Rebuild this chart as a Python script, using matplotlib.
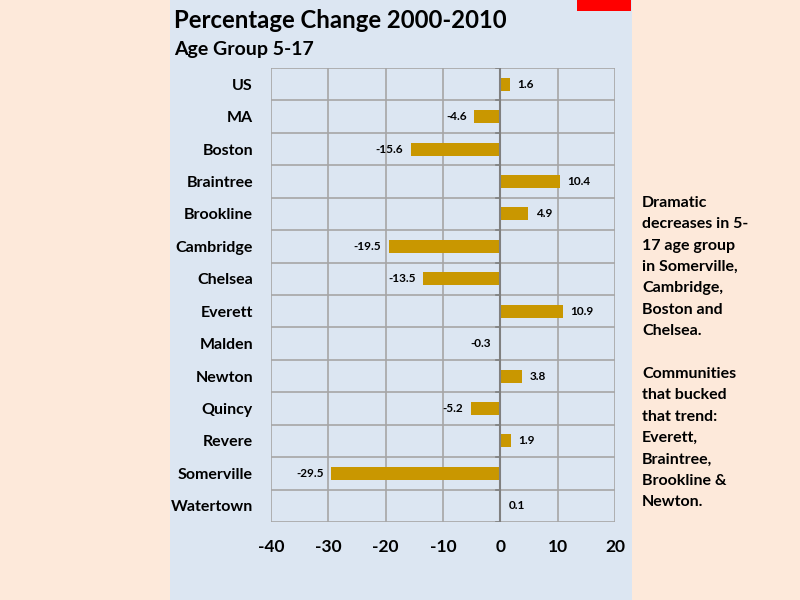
import matplotlib
matplotlib.use("Agg")
import matplotlib.pyplot as plt
from matplotlib.patches import Rectangle

places = ["US", "MA", "Boston", "Braintree", "Brookline", "Cambridge", "Chelsea",
          "Everett", "Malden", "Newton", "Quincy", "Revere", "Somerville", "Watertown"]
change = [1.6, -4.6, -15.6, 10.4, 4.9, -19.5, -13.5, 10.9, -0.3, 3.8, -5.2, 1.9, -29.5, 0.1]
x_ticks = [-40, -30, -20, -10, 0, 10, 20]

note = ("Dramatic\ndecreases in 5-\n17 age group\nin Somerville,\nCambridge,\nBoston and\nChelsea.\n\n"
        "Communities\nthat bucked\nthat trend:\nEverett,\nBraintree,\nBrookline &\nNewton.")

plt.rcParams['font.family'] = ['Lato', 'DejaVu Sans']

fig = plt.figure(figsize=(8, 6), dpi=100)
fig.patch.set_facecolor("#FDE9DA")

# background axes for the blue panel and the red block
bg = fig.add_axes([0, 0, 1, 1], zorder=-5)
bg.set_xlim(0, 800)
bg.set_ylim(600, 0)
bg.axis("off")
bg.add_patch(Rectangle((170, 0), 462, 600, facecolor="#DCE6F2", edgecolor="none"))
bg.add_patch(Rectangle((577, 0), 54, 11, facecolor="#FF0000", edgecolor="none"))

ax = fig.add_axes([271/800, 1 - 522/600, 344/800, 454/600], zorder=1)
ax.set_facecolor("none")
n = len(places)
ypos = list(range(n))
ax.barh(ypos, change, height=0.4, color="#C99700", zorder=3)
ax.set_ylim(n - 0.5, -0.5)
ax.set_xlim(-40, 20)
ax.set_xticks(x_ticks)
ax.set_xticklabels([str(t) for t in x_ticks], fontsize=12.5, fontweight="bold")
ax.set_yticks(ypos)
ax.set_yticklabels(places, fontsize=11.5, fontweight="bold")
ax.tick_params(axis="both", length=0)
ax.tick_params(axis="y", pad=13)
ax.tick_params(axis="x", pad=12)

grid_c = "#A6A6A6"
for t in x_ticks:
    if t != 0:
        ax.axvline(t, color=grid_c, lw=1.2, zorder=1)
for k in range(n + 1):
    ax.axhline(k - 0.5, color=grid_c, lw=1.2, zorder=1)
ax.axvline(0, color="#808080", lw=1.5, zorder=4)
for k in range(n + 1):
    ax.plot([-0.8, 0], [k - 0.5, k - 0.5], color="#808080", lw=1.2, zorder=4)
for s in ax.spines.values():
    s.set_visible(False)

for y, v in zip(ypos, change):
    if v >= 0:
        ax.text(v + 1.3, y, f"{v:.1f}", va="center", ha="left", fontsize=8.5, fontweight="bold")
    else:
        ax.text(v - 1.3, y, f"{v:.1f}", va="center", ha="right", fontsize=8.5, fontweight="bold")

fig.text(174/800, 1 - 21/600, "Percentage Change 2000-2010", fontsize=17.2, fontweight="bold", va="center")
fig.text(174/800, 1 - 50/600, "Age Group 5-17", fontsize=14, fontweight="bold", va="center")
fig.text(642/800, 1 - 196/600, note, fontsize=11.5, fontweight="bold", va="top", linespacing=1.67)

fig.savefig("out.png", dpi=100)
